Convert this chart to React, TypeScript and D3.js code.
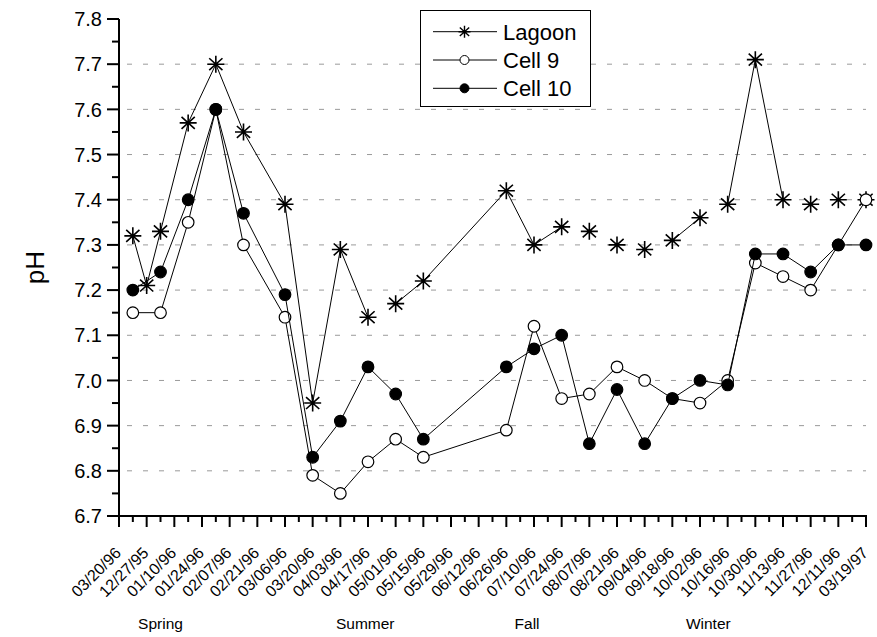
import React from "react";
import * as d3 from "d3";

const tickLabels = ["03/20/96","12/27/95","01/10/96","01/24/96","02/07/96","02/21/96","03/06/96","03/20/96","04/03/96","04/17/96","05/01/96","05/15/96","05/29/96","06/12/96","06/26/96","07/10/96","07/24/96","08/07/96","08/21/96","09/04/96","09/18/96","10/02/96","10/16/96","10/30/96","11/13/96","11/27/96","12/11/96","03/19/97"];

const lagoonWeeks = [1,2,3,5,7,9,12,14,16,18,20,22,28,30,32,34,36,38,40,42,44,46,48,50,52,54];
const lagoonValues = [7.32,7.21,7.33,7.57,7.70,7.55,7.39,6.95,7.29,7.14,7.17,7.22,7.42,7.30,7.34,7.33,7.30,7.29,7.31,7.36,7.39,7.71,7.40,7.39,7.40,7.40];
const lagoonBreakAfter = [18,32,34,36,38,42,48,50,52];

const cellWeeks = [1,3,5,7,9,12,14,16,18,20,22,28,30,32,34,36,38,40,42,44,46,48,50,52,54];
const cell9Values = [7.15,7.15,7.35,7.60,7.30,7.14,6.79,6.75,6.82,6.87,6.83,6.89,7.12,6.96,6.97,7.03,7.00,6.96,6.95,7.00,7.26,7.23,7.20,7.30,7.40];
const cell10Values = [7.20,7.24,7.40,7.60,7.37,7.19,6.83,6.91,7.03,6.97,6.87,7.03,7.07,7.10,6.86,6.98,6.86,6.96,7.00,6.99,7.28,7.28,7.24,7.30,7.30];

const seasons = ["Spring","Summer","Fall","Winter"];
const seasonWeeks = [3,17.8,29.5,42.6];

const yTicks = [6.7,6.8,6.9,7.0,7.1,7.2,7.3,7.4,7.5,7.6,7.7,7.8];
const legendNames = ["Lagoon","Cell 9","Cell 10"];

const FONT = "'Liberation Sans', Arial, sans-serif";

function Star({ x, y, r = 8, sw = 1.6 }: { x: number; y: number; r?: number; sw?: number }) {
  const dx = r * 0.78, dy = r * 0.7;
  const p = `M${x - r},${y}L${x + r},${y}M${x},${y - r}L${x},${y + r}M${x - dx},${y - dy}L${x + dx},${y + dy}M${x - dx},${y + dy}L${x + dx},${y - dy}`;
  return <path d={p} stroke="#000" strokeWidth={sw} fill="none" />;
}

export default function App() {
  const W = 877, H = 637;
  const x = d3.scaleLinear().domain([0, 54]).range([119, 866]);
  const y = d3.scaleLinear().domain([6.7, 7.8]).range([516, 19]);
  const line = d3.line<[number, number]>().x(d => x(d[0])).y(d => y(d[1]));

  const lagoonPts: [number, number][] = lagoonWeeks.map((w, i) => [w, lagoonValues[i]]);
  const lagoonSegs: [number, number][][] = [];
  let cur: [number, number][] = [];
  lagoonPts.forEach((p) => {
    cur.push(p);
    if (lagoonBreakAfter.includes(p[0])) { lagoonSegs.push(cur); cur = []; }
  });
  if (cur.length) lagoonSegs.push(cur);
  const c9: [number, number][] = cellWeeks.map((w, i) => [w, cell9Values[i]]);
  const c10: [number, number][] = cellWeeks.map((w, i) => [w, cell10Values[i]]);

  const minorY = d3.range(6.75, 7.8, 0.1);
  const majorXWeeks = tickLabels.map((_, i) => i * 2);
  const minorXWeeks = d3.range(1, 54, 2);

  return (
    <svg width={W} height={H} style={{ position: "absolute", left: 0, top: 0, background: "#fff" }} fontFamily={FONT}>
      <rect width={W} height={H} fill="#fff" />
      {yTicks.filter(v => v > 6.75 && v < 7.75).map(v => (
        <line key={"g" + v} x1={x(0)} x2={x(54)} y1={y(v)} y2={y(v)} stroke="#9a9a9a" strokeWidth={1} strokeDasharray="5,11" strokeDashoffset={-8} />
      ))}
      {lagoonSegs.map((s, i) => s.length > 1 ? <path key={"ls" + i} d={line(s) || ""} fill="none" stroke="#000" strokeWidth={1} /> : null)}
      {lagoonPts.map((p, i) => <Star key={"lp" + i} x={x(p[0])} y={y(p[1])} r={8.5} />)}
      <path d={line(c9) || ""} fill="none" stroke="#000" strokeWidth={1} />
      {c9.map((p, i) => <circle key={"c9" + i} cx={x(p[0])} cy={y(p[1])} r={5.8} fill="#fff" stroke="#000" strokeWidth={1.2} />)}
      <path d={line(c10) || ""} fill="none" stroke="#000" strokeWidth={1} />
      {c10.map((p, i) => <circle key={"c10" + i} cx={x(p[0])} cy={y(p[1])} r={5.8} fill="#000" stroke="#000" strokeWidth={1.2} />)}
      <line x1={119} x2={119} y1={y(7.8)} y2={y(6.7) + 1} stroke="#000" strokeWidth={2} />
      {yTicks.map(v => (
        <g key={"yt" + v}>
          <line x1={107} x2={119} y1={y(v)} y2={y(v)} stroke="#000" strokeWidth={2} />
          <text x={102} y={y(v)} dy="0.36em" textAnchor="end" fontSize={20}>{v.toFixed(1)}</text>
        </g>
      ))}
      {minorY.map(v => <line key={"ym" + v} x1={112} x2={119} y1={y(v)} y2={y(v)} stroke="#000" strokeWidth={2} />)}
      <text transform={`translate(44,${y(7.25)}) rotate(-90)`} textAnchor="middle" fontSize={26}>pH</text>
      <line x1={x(0) - 1} x2={x(54) + 1} y1={516} y2={516} stroke="#000" strokeWidth={2} />
      {majorXWeeks.map((w, i) => (
        <g key={"xt" + i}>
          <line x1={x(w)} x2={x(w)} y1={516} y2={527} stroke="#000" strokeWidth={2} />
          <text transform={`translate(${x(w) + 3},${554}) rotate(-45)`} textAnchor="end" fontSize={16}>{tickLabels[i]}</text>
        </g>
      ))}
      {minorXWeeks.map(w => <line key={"xm" + w} x1={x(w)} x2={x(w)} y1={516} y2={522} stroke="#000" strokeWidth={2} />)}
      {seasons.map((s, i) => <text key={s} x={x(seasonWeeks[i])} y={629} textAnchor="middle" fontSize={15.5}>{s}</text>)}
      <rect x={420.5} y={10.5} width={170} height={96} fill="#fff" stroke="#000" strokeWidth={1} />
      {legendNames.map((n, i) => {
        const ly = 31.7 + i * 28.3;
        return (
          <g key={n}>
            <line x1={433} x2={497} y1={ly} y2={ly} stroke="#000" strokeWidth={1} />
            {i === 0 && <Star x={464.5} y={ly} r={6} sw={1.4} />}
            {i === 1 && <circle cx={464.5} cy={ly} r={4.5} fill="#fff" stroke="#000" strokeWidth={1} />}
            {i === 2 && <circle cx={464.5} cy={ly} r={4.5} fill="#000" stroke="#000" strokeWidth={1} />}
            <text x={503} y={ly} dy="0.36em" fontSize={22}>{n}</text>
          </g>
        );
      })}
    </svg>
  );
}
